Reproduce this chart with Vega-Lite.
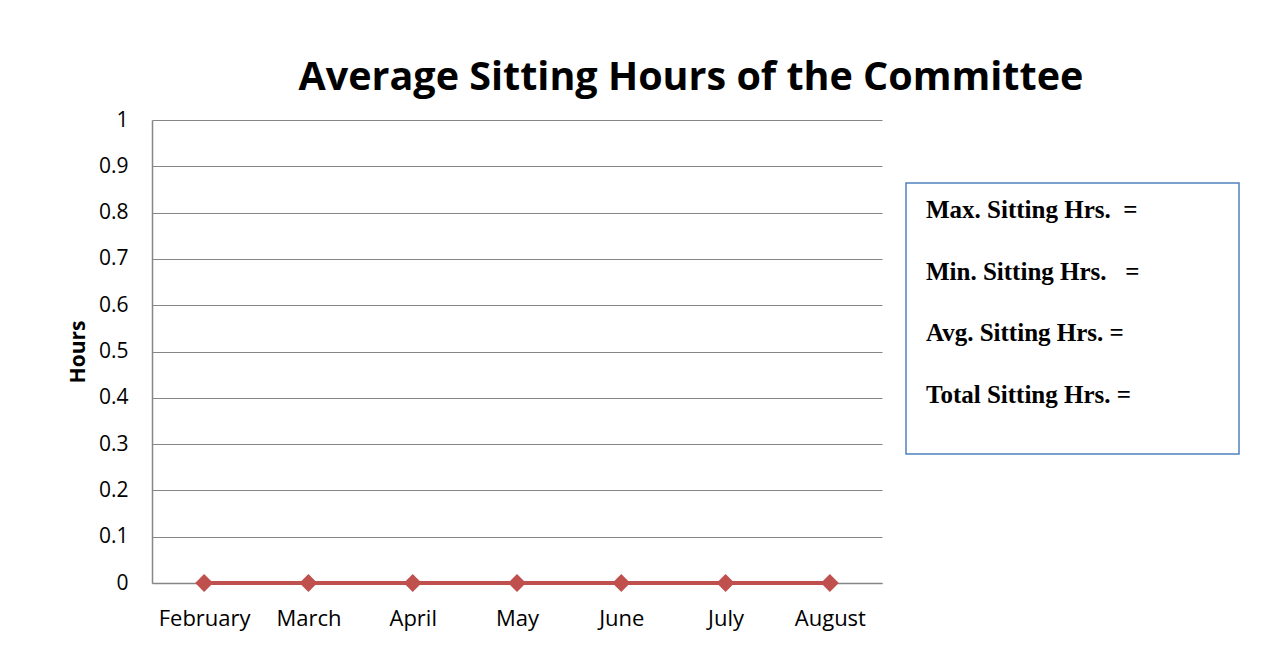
{
  "$schema": "https://vega.github.io/schema/vega-lite/v6.json",
  "background": "white",
  "padding": {"left": 67, "top": 57, "right": 20, "bottom": 10},
  "title": {
    "text": "Average Sitting Hours of the Committee",
    "font": "Open Sans",
    "fontSize": 39.5,
    "fontWeight": "bold",
    "color": "#000000",
    "anchor": "start",
    "dx": 231,
    "offset": 11
  },
  "datasets": {
    "months": [
      {"month": "February", "hours": 0},
      {"month": "March", "hours": 0},
      {"month": "April", "hours": 0},
      {"month": "May", "hours": 0},
      {"month": "June", "hours": 0},
      {"month": "July", "hours": 0},
      {"month": "August", "hours": 0}
    ],
    "stats": [
      {"order": 1, "label": "Max. Sitting Hrs. \u00a0="},
      {"order": 2, "label": "Min. Sitting Hrs. \u00a0\u00a0="},
      {"order": 3, "label": "Avg. Sitting Hrs. ="},
      {"order": 4, "label": "Total Sitting Hrs. ="}
    ]
  },
  "spacing": 23,
  "hconcat": [
    {
      "width": 730,
      "height": 463,
      "data": {"name": "months"},
      "encoding": {
        "x": {
          "field": "month",
          "type": "nominal",
          "sort": null,
          "scale": {"type": "point", "padding": 0.5},
          "axis": {
            "title": null,
            "labelAngle": 0,
            "ticks": false,
            "labelPadding": 25,
            "labelFont": "Open Sans",
            "labelFontSize": 22,
            "labelColor": "#000000",
            "domainColor": "#868686",
            "domainWidth": 1.5,
            "grid": false
          }
        },
        "y": {
          "field": "hours",
          "type": "quantitative",
          "scale": {"domain": [0, 1], "nice": false, "zero": true},
          "axis": {
            "title": "Hours",
            "titleFont": "Open Sans",
            "titleFontSize": 21,
            "titleFontWeight": "bold",
            "titleColor": "#000000",
            "titlePadding": 10,
            "values": [0, 0.1, 0.2, 0.3, 0.4, 0.5, 0.6, 0.7, 0.8, 0.9, 1],
            "format": "~g",
            "ticks": false,
            "labelPadding": 24,
            "labelFont": "Open Sans",
            "labelFontSize": 21,
            "labelColor": "#000000",
            "domainColor": "#868686",
            "domainWidth": 1.5,
            "grid": true,
            "gridColor": "#868686",
            "gridWidth": 1.2
          }
        }
      },
      "layer": [
        {"mark": {"type": "line", "color": "#C0504D", "strokeWidth": 4}},
        {"mark": {"type": "point", "shape": "diamond", "filled": true, "color": "#C0504D", "size": 320, "opacity": 1}}
      ]
    },
    {
      "spacing": 0,
      "vconcat": [
        {
          "width": 333,
          "height": 62,
          "data": {"values": []},
          "mark": "point",
          "view": {"stroke": null}
        },
        {
          "width": 333,
          "height": 271,
          "data": {"name": "stats"},
          "view": {"stroke": "#4F81BD", "strokeWidth": 1.5},
          "mark": {
            "type": "text",
            "align": "left",
            "baseline": "middle",
            "font": "Liberation Serif",
            "fontSize": 25,
            "fontWeight": "bold",
            "color": "#000000",
            "dx": 20
          },
          "encoding": {
            "x": {"datum": 0, "type": "quantitative", "scale": {"domain": [0, 1]}, "axis": null},
            "y": {
              "field": "order",
              "type": "ordinal",
              "scale": {"type": "point", "padding": 0.697, "align": 0.314},
              "axis": null
            },
            "text": {"field": "label"}
          }
        }
      ]
    }
  ],
  "config": {"view": {"stroke": null}}
}
